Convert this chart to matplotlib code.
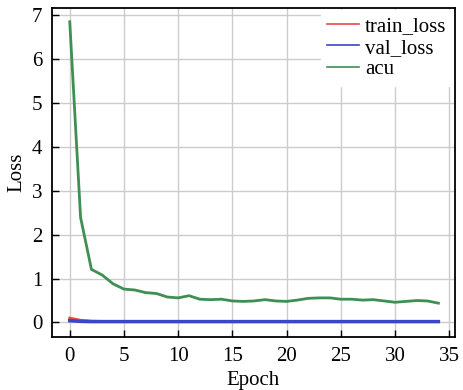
import numpy as np
import matplotlib.pyplot as plt

# Values
epochs = list(range(35))
train_loss = [0.10, 0.05, 0.03, 0.025, 0.02, 0.02, 0.02, 0.02, 0.02, 0.02,
              0.02, 0.02, 0.02, 0.02, 0.02, 0.02, 0.02, 0.02, 0.02, 0.02,
              0.02, 0.02, 0.02, 0.02, 0.02, 0.02, 0.02, 0.02, 0.02, 0.02,
              0.02, 0.02, 0.02, 0.02, 0.02]
val_loss = [0.04, 0.025, 0.02, 0.02, 0.02, 0.02, 0.02, 0.02, 0.02, 0.02,
            0.02, 0.02, 0.02, 0.02, 0.02, 0.02, 0.02, 0.02, 0.02, 0.02,
            0.02, 0.02, 0.02, 0.02, 0.02, 0.02, 0.02, 0.02, 0.02, 0.02,
            0.02, 0.02, 0.02, 0.02, 0.02]
acu = [6.85, 2.39, 1.21, 1.08, 0.88, 0.76, 0.74, 0.68, 0.66, 0.58,
       0.56, 0.61, 0.53, 0.52, 0.53, 0.49, 0.48, 0.49, 0.52, 0.49,
       0.48, 0.51, 0.55, 0.56, 0.56, 0.53, 0.53, 0.51, 0.52, 0.49,
       0.46, 0.48, 0.50, 0.49, 0.44]

plt.rcParams['font.family'] = 'Liberation Serif'
plt.rcParams['font.size'] = 15

fig = plt.figure(figsize=(4.63, 3.9), dpi=100)
ax = fig.add_axes([0.112, 0.136, 0.870, 0.843])

ax.plot(epochs, train_loss, color='#e8474a', linewidth=2, label='train_loss')
ax.plot(epochs, val_loss, color='#3c45c8', linewidth=2.5, label='val_loss')
ax.plot(epochs, acu, color='#3f8f52', linewidth=2, label='acu')

ax.set_xlim(-1.65, 35.5)
ax.set_ylim(-0.33, 7.16)
ax.set_xticks([0, 5, 10, 15, 20, 25, 30, 35])
ax.set_yticks(range(8))
ax.grid(True, color='#cccccc', linewidth=1)
ax.tick_params(direction='in', length=5, width=1, pad=7)
for s in ax.spines.values():
    s.set_linewidth(1.3)
    s.set_zorder(6)

ax.set_xlabel('Epoch', labelpad=4)
ax.set_ylabel('Loss', labelpad=4)

leg = ax.legend(loc='upper right', frameon=True, fancybox=False,
                handlelength=1.5, handletextpad=0.3, borderaxespad=0.1,
                labelspacing=0.1, borderpad=0.3, fontsize=15)
leg.get_frame().set_edgecolor('white')
leg.get_frame().set_alpha(1)
for h in leg.get_lines():
    h.set_linewidth(1.2)

fig.savefig('out.png', dpi=100)
